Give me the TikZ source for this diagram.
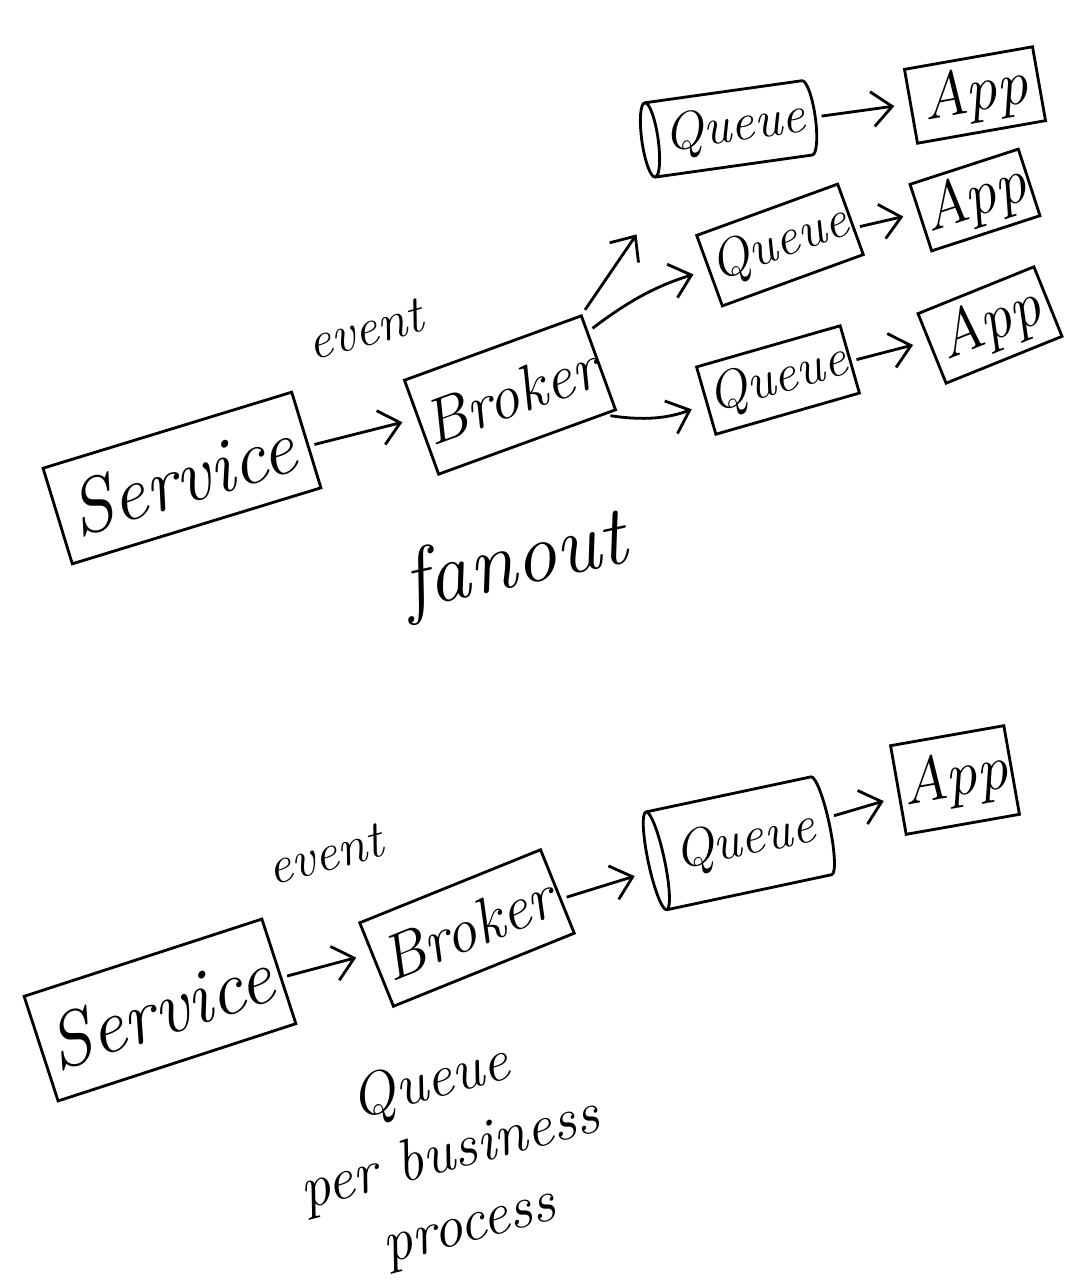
\documentclass[tikz,border=0pt]{standalone}
\usepackage{tikz}
\usetikzlibrary{shapes.geometric,arrows.meta}

\tikzset{
  box/.style={draw, line width=0.8pt, inner sep=1pt},
  qcyl/.style={draw, cylinder, shape border rotate=180, aspect=0.3, line width=0.8pt, inner sep=1pt},
  arr/.style={line width=0.8pt, -{Straight Barb[length=2mm,width=3.5mm]}, shorten >=1.5mm, shorten <=0.5mm},
  big/.style={font=\fontsize{22}{26}\selectfont\itshape},
  mid/.style={font=\fontsize{18}{22}\selectfont\itshape},
  small/.style={font=\fontsize{15}{18}\selectfont\itshape},
}

\begin{document}
\begin{tikzpicture}[x=0.1mm,y=-0.1mm]
\useasboundingbox (0,0) rectangle (1072,1280);

% fanout
\node[box, big, minimum width=26mm, minimum height=10mm, rotate=17] (svc1) at (182,478) {Service};
\node[box, mid, minimum width=18.5mm, minimum height=10mm, rotate=20] (brk1) at (510,395) {Broker};
\node[small, rotate=15] (ev1) at (365,330) {event};

% cylinder: height is along the axis, width across it
\node[qcyl, small, minimum height=17.5mm, minimum width=7.5mm, rotate=8] (q1) at (735,128) {Queue};
\node[box, small, minimum width=15mm, minimum height=7.5mm, rotate=20] (q2) at (780,245) {Queue};
\node[box, small, minimum width=14.5mm, minimum height=7mm, rotate=16] (q3) at (778,380) {Queue};

\node[box, mid, minimum width=13mm, minimum height=7.5mm, rotate=10] (app1) at (975,95) {App};
\node[box, mid, minimum width=11mm, minimum height=7mm, rotate=18] (app2) at (975,200) {App};
\node[box, mid, minimum width=12.5mm, minimum height=7.5mm, rotate=22] (app3) at (990,325) {App};

\coordinate (up) at (645,222);
\draw[arr] (svc1) -- (brk1);
\draw[arr] (brk1.north east) -- (up);
\draw[arr] (brk1) to[bend left=10] (q2);
\draw[arr] (brk1) to[bend right=15] (q3);
\draw[arr] (q1) -- (app1);
\draw[arr] (q2) -- (app2);
\draw[arr] (q3) -- (app3);

\node[font=\fontsize{24}{28}\selectfont\itshape, rotate=12] (fan) at (515,565) {fanout};

% queue per business process
\node[box, big, minimum width=25mm, minimum height=11mm, rotate=18] (svc2) at (160,1010) {Service};
\node[box, mid, minimum width=19.5mm, minimum height=9mm, rotate=22] (brk2) at (467,928) {Broker};
\node[small, rotate=15] (ev2) at (325,855) {event};
\node[qcyl, small, minimum height=18.5mm, minimum width=10mm, rotate=12] (q4) at (745,842) {Queue};
\node[box, mid, minimum width=11.5mm, minimum height=9mm, rotate=10] (app4) at (955,780) {App};

\draw[arr] (svc2) -- (brk2);
\draw[arr] (brk2) -- (q4);
\draw[arr] (q4) -- (app4);

\node[font=\fontsize{17}{21}\selectfont\itshape, rotate=15, align=center] (note) at (450,1155) {Queue\\per business\\process};
\end{tikzpicture}
\end{document}
